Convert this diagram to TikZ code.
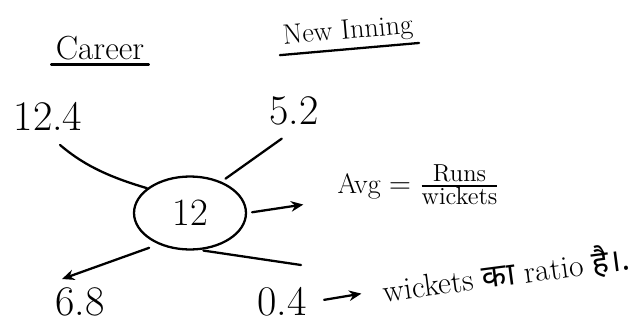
\documentclass[tikz,border=0pt]{standalone}
\usepackage{amsmath}
\usepackage{fontspec}
\newfontfamily\hindifont[Script=Devanagari]{Noto Sans}
\usetikzlibrary{shapes.geometric,arrows.meta}
\begin{document}
\begin{tikzpicture}[x=0.02cm, y=-0.02cm, line width=1.3pt, line cap=round,
    every node/.style={inner sep=2pt},
    score/.style={font=\fontsize{24}{28}\selectfont},
    heading/.style={font=\fontsize{19}{22}\selectfont},
    note/.style={font=\fontsize{16}{19}\selectfont},
    tip/.style={-{Stealth[length=7pt,width=6pt]}}]
  \useasboundingbox (0,0) rectangle (637,325);
  \node[heading] (career) at (100,48) {Career};
  \node[note, rotate=5] (newinn) at (348,32) {New Inning};
  \node[score] (c124) at (48,116) {12.4};
  \node[score] (c52) at (294,111) {5.2};
  \node[ellipse, draw, minimum width=2.24cm, minimum height=1.46cm,
        font=\fontsize{22}{26}\selectfont] (avg12) at (190,213) {12};
  \node[note, anchor=west] (avg) at (333,185)
    {Avg $=\frac{\mbox{\fontsize{14}{16}\selectfont Runs}}{\mbox{\fontsize{14}{16}\selectfont wickets}}$};
  \node[score] (c68) at (80,302) {6.8};
  \node[score] (c04) at (282,302) {0.4};
  \node[note, font=\fontsize{18}{21}\selectfont, rotate=7.5] (ratio) at (506,274)
    {wickets {\hindifont का} ratio {\hindifont है।.}};
  \coordinate (t04) at (301,265);
  \draw (career.south west) -- (career.south east);
  \draw (newinn.south west) -- (newinn.south east);
  \draw[shorten <=9pt] (c124.south) to[bend right=12] (avg12.150);
  \draw[shorten <=0.3cm, shorten >=0.1cm] (c52.south) -- (avg12.45);
  \draw[tip, shorten <=0.1cm, shorten >=0.6cm] (avg12.east) -- (avg.190);
  \draw[shorten <=2pt] (avg12.-75) -- (t04);
  \draw[tip, shorten <=0.2cm, shorten >=0.24cm] (avg12.225) -- (c68.north west);
  \draw[tip, shorten <=0.26cm, shorten >=0.34cm] (c04.east) -- (ratio.west);
\end{tikzpicture}
\end{document}
